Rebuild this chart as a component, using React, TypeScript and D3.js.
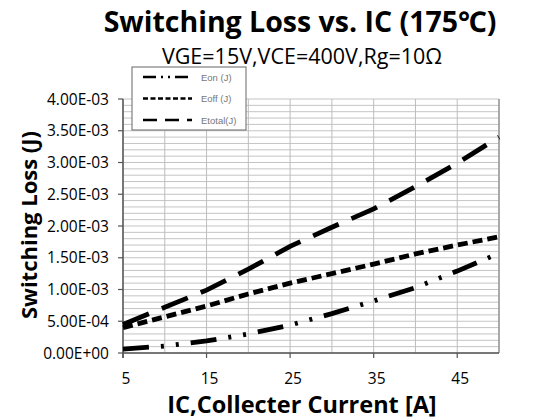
import React from "react";
import * as d3 from "d3";

const ic = [5, 10, 15, 20, 25, 30, 35, 40, 45, 50];
const eon = [0.06e-3, 0.11e-3, 0.19e-3, 0.3e-3, 0.44e-3, 0.62e-3, 0.82e-3, 1.03e-3, 1.29e-3, 1.57e-3];
const eoff = [0.4e-3, 0.57e-3, 0.74e-3, 0.93e-3, 1.1e-3, 1.25e-3, 1.4e-3, 1.56e-3, 1.7e-3, 1.83e-3];
const etotal = [0.45e-3, 0.72e-3, 0.99e-3, 1.32e-3, 1.68e-3, 1.98e-3, 2.27e-3, 2.62e-3, 2.99e-3, 3.4e-3];
const yTicks = [0, 0.5e-3, 1e-3, 1.5e-3, 2e-3, 2.5e-3, 3e-3, 3.5e-3, 4e-3];
const xTicks = [5, 15, 25, 35, 45];
const seriesNames = ["Eon (J)", "Eoff (J)", "Etotal(J)"];

const FONT = "'Open Sans', 'Noto Sans', sans-serif";

function fmtExp(v: number): string {
  if (v === 0) return "0.00E+00";
  const e = Math.floor(Math.log10(v) + 1e-9);
  const m = v / Math.pow(10, e);
  const sign = e < 0 ? "-" : "+";
  return `${m.toFixed(2)}E${sign}${String(Math.abs(e)).padStart(2, "0")}`;
}

export default function App() {
  const W = 539, H = 419;
  const L = 123, R = 499, T = 99, B = 353;
  const x = d3.scaleLinear().domain([5, 50]).range([L, R]);
  const y = d3.scaleLinear().domain([0, 4e-3]).range([B, T]);

  const minorY = d3.range(0, 4e-3 + 1e-9, 1e-4);
  const gridX = d3.range(5, 50.001, 5);

  const line = d3.line<number>().x((_, i) => x(ic[i])).y((d) => y(d));

  const series = [
    { data: eon, dash: "26,12,3,12,3,12", width: 4.8 },
    { data: eoff, dash: "10,5", width: 4.8 },
    { data: etotal, dash: "28,14", width: 4.8 },
  ];
  const legendDash = ["13,5,2,5,2,5", "5,2.5", "14,8"];

  return (
    <svg width={W} height={H} style={{ position: "absolute", left: 0, top: 0, background: "#fff" }}>
      <rect x={0} y={0} width={W} height={H} fill="#fff" />
      {/* title */}
      <text x={300} y={31.5} textAnchor="middle" fontFamily={FONT} fontWeight="bold" fontSize={28.5} fill="#000">
        Switching Loss vs. IC (175℃)
      </text>
      <text x={302} y={63.5} textAnchor="middle" fontFamily={FONT} fontSize={21.5} fill="#000">
        VGE=15V,VCE=400V,Rg=10Ω
      </text>

      {/* grid */}
      {minorY.map((v, i) => (
        <line key={"gy" + i} x1={L} x2={R} y1={y(v)} y2={y(v)} stroke="#c4c4c4" strokeWidth={1} />
      ))}
      {gridX.map((v, i) => (
        <line key={"gx" + i} x1={x(v)} x2={x(v)} y1={T} y2={B} stroke="#bdbdbd" strokeWidth={1} />
      ))}
      <line x1={R} x2={R} y1={T} y2={B} stroke="#999" strokeWidth={1.5} />

      {/* axes */}
      <line x1={L} x2={L} y1={T} y2={B + 5} stroke="#555" strokeWidth={1.5} />
      <line x1={L} x2={R} y1={B} y2={B} stroke="#555" strokeWidth={1.5} />
      {yTicks.map((v, i) => (
        <g key={"yt" + i}>
          <line x1={L - 5} x2={L} y1={y(v)} y2={y(v)} stroke="#555" strokeWidth={1.2} />
          <text x={109} y={y(v) + 5.5} textAnchor="end" fontFamily={FONT} fontSize={15.5} fill="#000">
            {fmtExp(v)}
          </text>
        </g>
      ))}
      {xTicks.map((v, i) => (
        <g key={"xt" + i}>
          <line x1={x(v)} x2={x(v)} y1={B} y2={B + 5} stroke="#555" strokeWidth={1.2} />
          <text x={x(v) + 3} y={384} textAnchor="middle" fontFamily={FONT} fontSize={15.5} fill="#000">
            {v}
          </text>
        </g>
      ))}

      {/* series */}
      {series.map((s, i) => (
        <path key={"s" + i} d={line(s.data) || ""} fill="none" stroke="#000" strokeWidth={s.width} strokeDasharray={s.dash} />
      ))}

      {/* axis titles */}
      <text x={302} y={413} textAnchor="middle" fontFamily={FONT} fontWeight="bold" fontSize={23.5} fill="#000">
        IC,Collecter Current [A]
      </text>
      <text transform="translate(37,225) rotate(-90)" textAnchor="middle" fontFamily={FONT} fontWeight="bold" fontSize={22} fill="#000">
        Switching Loss (J)
      </text>

      {/* legend */}
      <rect x={132} y={67} width={114} height={63} fill="#fff" stroke="#666" strokeWidth={1} />
      {seriesNames.map((n, i) => (
        <g key={"lg" + i}>
          <line x1={143} x2={192} y1={77 + i * 21.5} y2={77 + i * 21.5} stroke="#000" strokeWidth={2.5} strokeDasharray={legendDash[i]} />
          <text x={201} y={80.5 + i * 21.5} fontFamily="'Liberation Sans', Arial, sans-serif" fontSize={9.5} fill="#777">
            {n}
          </text>
        </g>
      ))}
    </svg>
  );
}
